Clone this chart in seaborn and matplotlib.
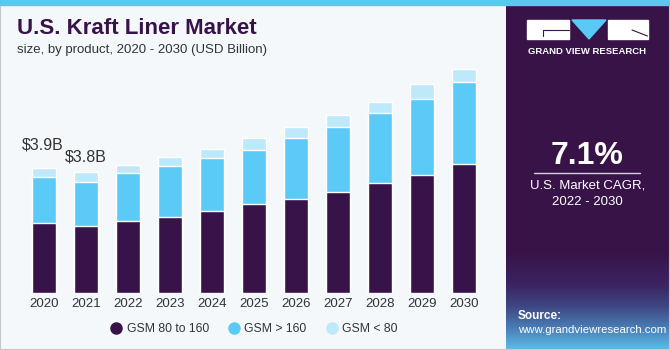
import numpy as np
import pandas as pd
import matplotlib
matplotlib.use('Agg')
import matplotlib.pyplot as plt
import seaborn as sns
from matplotlib.lines import Line2D
from matplotlib.patches import Rectangle, Polygon
from matplotlib.colors import LinearSegmentedColormap

sns.set_style('white')
plt.rcParams['font.family'] = ['Liberation Sans', 'DejaVu Sans']

# ---------------------------------------------------------
# data (USD billion)
# ---------------------------------------------------------
years = ['2020', '2021', '2022', '2023', '2024', '2025', '2026', '2027', '2028', '2029', '2030']
gsm_80_160 = [2.18, 2.10, 2.26, 2.37, 2.57, 2.79, 2.95, 3.17, 3.45, 3.70, 4.03]
gsm_over_160 = [1.46, 1.38, 1.50, 1.59, 1.66, 1.69, 1.90, 2.04, 2.19, 2.38, 2.58]
gsm_under_80 = [0.26, 0.31, 0.25, 0.28, 0.29, 0.37, 0.34, 0.37, 0.34, 0.46, 0.39]
value_labels = ['$3.9B', '$3.8B']   # shown above 2020 and 2021

DARK = '#371349'
CYAN = '#5bcaf6'
LIGHT = '#bde9fa'
BG = '#f4f8fb'

df = pd.DataFrame({'year': years, 'mid': gsm_80_160, 'high': gsm_over_160, 'low': gsm_under_80})
df['c_mid'] = df['mid']
df['c_high'] = df['mid'] + df['high']
df['c_total'] = df['c_high'] + df['low']

W, H = 670, 350
fig = plt.figure(figsize=(6.7, 3.5), dpi=100)
fig.patch.set_facecolor(BG)

# frame + top strip
fig.patches.append(Rectangle((0, 0), 1, 1, transform=fig.transFigure, fill=False,
                             edgecolor='#c8c8c8', linewidth=1.5, zorder=0))
fig.patches.append(Rectangle((0, 1 - 5 / H), 1, 5 / H, transform=fig.transFigure,
                             color='#5bc8f0', zorder=1))

# ---------------------------------------------------------
# main bar chart (stacked by overdrawing cumulative totals)
# ---------------------------------------------------------
base_px, top_px = 292.7, 65
ax = fig.add_axes([23 / W, 1 - base_px / H, 462 / W, (base_px - top_px) / H])
ax.set_facecolor(BG)
bw = 0.57
sns.barplot(data=df, x='year', y='c_total', color=LIGHT, width=bw, saturation=1, ax=ax)
sns.barplot(data=df, x='year', y='c_high', color=CYAN, width=bw, saturation=1, ax=ax)
sns.barplot(data=df, x='year', y='c_mid', color=DARK, width=bw, saturation=1, ax=ax)
ax.set_xlim(-0.5, len(years) - 0.5)
ax.set_ylim(0, (base_px - top_px) / 31.9)
ax.set_xlabel('')
ax.set_ylabel('')
ax.set_yticks([])
ax.tick_params(axis='x', length=0, pad=4, labelsize=9.5, labelcolor='#333333')
for s in ax.spines.values():
    s.set_visible(False)

label_offsets = [(-1, 23), (0, 15)]
for i, (lab, off) in enumerate(zip(value_labels, label_offsets)):
    ax.annotate(lab, (i, df['c_total'][i]), xytext=(off[0] * 0.72, off[1] * 0.72),
                textcoords='offset points', ha='center', va='center',
                fontsize=11.5, color='#333333')

handles = [Line2D([], [], marker='o', linestyle='', markersize=8, color=c)
           for c in [DARK, CYAN, LIGHT]]
fig.legend(handles, ['GSM 80 to 160', 'GSM > 160', 'GSM < 80'], loc='center',
           bbox_to_anchor=(254 / W, 1 - 329 / H), ncol=3, frameon=False, fontsize=8.8,
           handlelength=1.0, handletextpad=0.35, columnspacing=1.55, labelcolor='#333333')

fig.text(17 / W, 1 - 29 / H, 'U.S. Kraft Liner Market', fontsize=16, fontweight='bold',
         color='#371349', va='center', ha='left')
fig.text(17 / W, 1 - 50 / H, 'size, by product, 2020 - 2030 (USD Billion)', fontsize=9.5,
         color='#333333', va='center', ha='left')

# ---------------------------------------------------------
# right side panel
# ---------------------------------------------------------
px0 = 506
side = fig.add_axes([px0 / W, 0, (W - px0) / W, 1 - 5 / H])
side.set_facecolor('#371348')
side.axis('off')
side.add_patch(Rectangle((px0, 5), W - px0, H - 5, color='#371348', zorder=0))

# gradient at the bottom
cmap = LinearSegmentedColormap.from_list('g', ['#3b2260', '#3e4580', '#4a7cb4', '#5cbde9'])
side.imshow(np.linspace(0, 1, 100)[:, None], cmap=cmap, extent=[px0, W, H, 283],
            aspect='auto', zorder=1)
cmap2 = LinearSegmentedColormap.from_list('h', ['#371348', '#3b2260'])
side.imshow(np.linspace(0, 1, 50)[:, None], cmap=cmap2, extent=[px0, W, 283, 250],
            aspect='auto', zorder=1)
side.set_xlim(px0, W)
side.set_ylim(H, 5)

# logo
side.add_patch(Rectangle((527, 20), 42, 19, color='white', zorder=3))
side.add_patch(Rectangle((607.5, 20), 40, 19, color='white', zorder=3))
side.add_patch(Polygon([(572, 20), (606, 20), (589, 39)], closed=True, color='#5bc8f5', zorder=3))
side.plot([543, 569], [30, 30], color='#371348', lw=0.8, zorder=4)
side.plot([543, 543], [30, 36], color='#371348', lw=0.8, zorder=4)
side.plot([632, 647.5], [30, 36], color='#371348', lw=0.8, zorder=4)
side.text(587.5, 51, 'GRAND VIEW RESEARCH', color='white', fontsize=6.8, fontweight='bold',
          ha='center', va='center', zorder=4)

side.text(587.5, 156, '7.1%', color='white', fontsize=23, fontweight='bold',
          ha='center', va='center', zorder=4)
side.plot([534, 640], [173.3, 173.3], color='#d8d0e0', lw=1, zorder=4)
side.text(587.5, 186, 'U.S. Market CAGR,', color='white', fontsize=9.5,
          ha='center', va='center', zorder=4)
side.text(587.5, 202, '2022 - 2030', color='white', fontsize=9.5,
          ha='center', va='center', zorder=4)
side.text(518, 316, 'Source:', color='white', fontsize=8.5, fontweight='bold',
          ha='left', va='center', zorder=4)
side.text(518, 330, 'www.grandviewresearch.com', color='white', fontsize=8.2,
          ha='left', va='center', zorder=4)

plt.savefig('out.png', dpi=100, facecolor=fig.get_facecolor())
plt.close()
